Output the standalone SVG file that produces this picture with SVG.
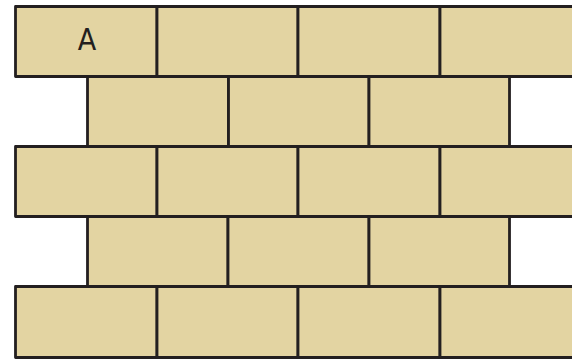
<svg xmlns="http://www.w3.org/2000/svg" width="572" height="360" viewBox="0 0 572 360">
<style>
.b{fill:#E3D4A2;stroke:#231F20;stroke-width:2.8;stroke-linejoin:round}
.t{font-family:"DejaVu Sans Condensed","DejaVu Sans",sans-serif;font-size:30px;fill:#231F20;text-anchor:middle}
</style>
<rect width="572" height="360" fill="#FFFFFF"/>
<g id="row1">
<g id="A"><rect class="b" x="15.5" y="6.5" width="141.5" height="70"/><text class="t" x="87" y="50">A</text></g>
<g id="b12"><rect class="b" x="157" y="6.5" width="141" height="70"/></g>
<g id="b13"><rect class="b" x="298" y="6.5" width="142" height="70"/></g>
<g id="b14"><rect class="b" x="440" y="6.5" width="140" height="70"/></g>
</g>
<g id="row2">
<g id="b21"><rect class="b" x="87.5" y="76.5" width="141" height="70"/></g>
<g id="b22"><rect class="b" x="228.5" y="76.5" width="140.5" height="70"/></g>
<g id="b23"><rect class="b" x="369" y="76.5" width="140.5" height="70"/></g>
</g>
<g id="row3">
<g id="b31"><rect class="b" x="15.5" y="146.5" width="141.5" height="70"/></g>
<g id="b32"><rect class="b" x="157" y="146.5" width="141" height="70"/></g>
<g id="b33"><rect class="b" x="298" y="146.5" width="142" height="70"/></g>
<g id="b34"><rect class="b" x="440" y="146.5" width="140" height="70"/></g>
</g>
<g id="row4">
<g id="b41"><rect class="b" x="87.5" y="216.5" width="140.5" height="70"/></g>
<g id="b42"><rect class="b" x="228" y="216.5" width="141" height="70"/></g>
<g id="b43"><rect class="b" x="369" y="216.5" width="140.5" height="70"/></g>
</g>
<g id="row5">
<g id="b51"><rect class="b" x="15.5" y="286.5" width="141.5" height="71"/></g>
<g id="b52"><rect class="b" x="157" y="286.5" width="141" height="71"/></g>
<g id="b53"><rect class="b" x="298" y="286.5" width="142" height="71"/></g>
<g id="b54"><rect class="b" x="440" y="286.5" width="140" height="71"/></g>
</g>
</svg>
